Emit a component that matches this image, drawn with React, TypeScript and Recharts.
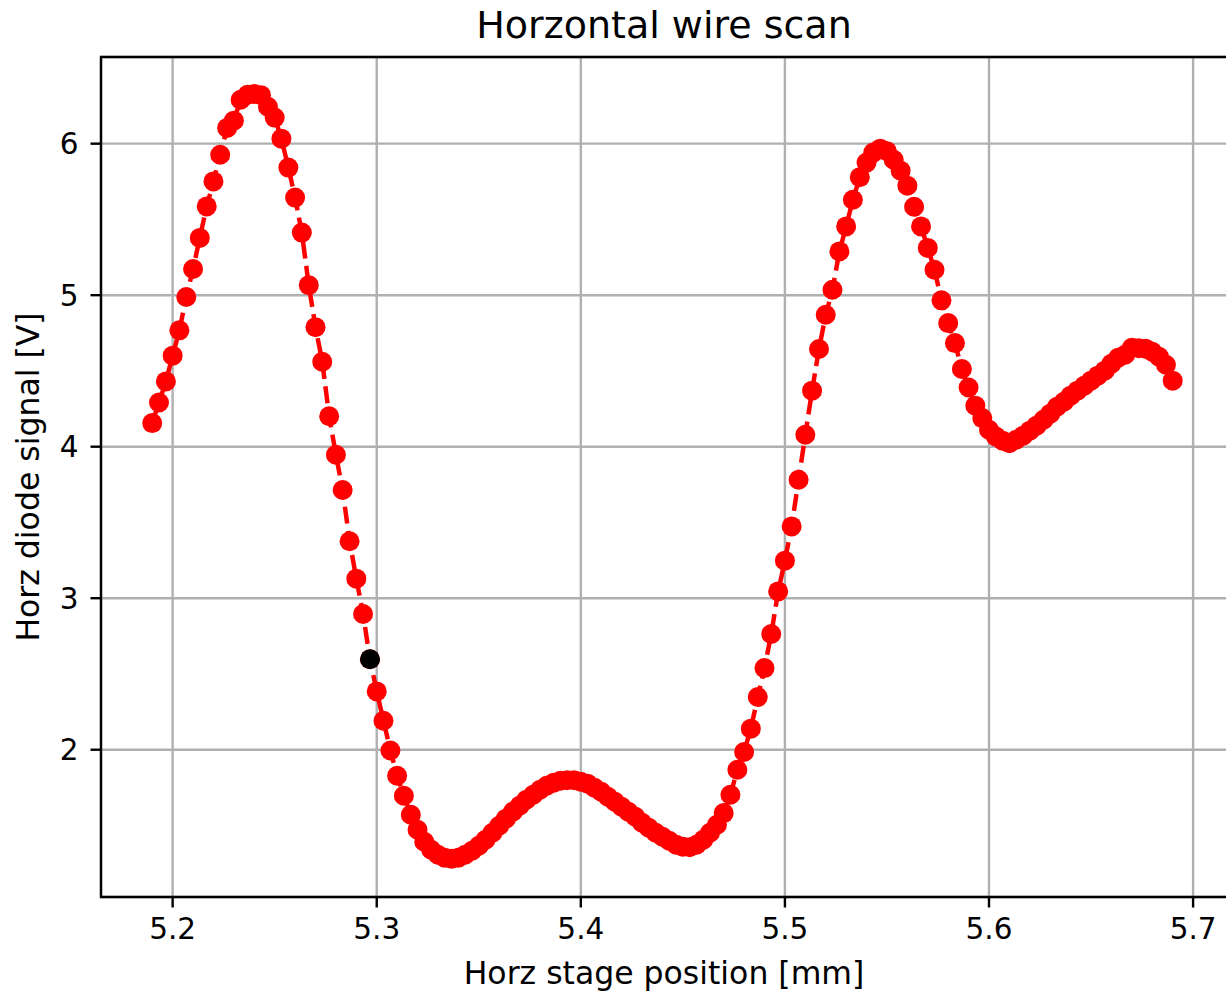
import React from 'react';
import { ComposedChart, Line, Scatter, XAxis, YAxis, CartesianGrid, ReferenceArea } from 'recharts';

// Horizontal stage position [mm]
const XS = [
  5.19, 5.1933, 5.1967, 5.2, 5.2033, 5.2067, 5.21, 5.2133, 5.2167, 5.22,
  5.2233, 5.2267, 5.23, 5.2333, 5.2367, 5.24, 5.2433, 5.2467, 5.25, 5.2533,
  5.2567, 5.26, 5.2633, 5.2667, 5.27, 5.2733, 5.2767, 5.28, 5.2833, 5.2867,
  5.29, 5.2933, 5.2967, 5.3, 5.3033, 5.3067, 5.31, 5.3133, 5.3167, 5.32,
  5.3233, 5.3267, 5.33, 5.3333, 5.3367, 5.34, 5.3433, 5.3467, 5.35, 5.3533,
  5.3567, 5.36, 5.3633, 5.3667, 5.37, 5.3733, 5.3767, 5.38, 5.3833, 5.3867,
  5.39, 5.3933, 5.3967, 5.4, 5.4033, 5.4067, 5.41, 5.4133, 5.4167, 5.42,
  5.4233, 5.4267, 5.43, 5.4333, 5.4367, 5.44, 5.4433, 5.4467, 5.45, 5.4533,
  5.4567, 5.46, 5.4633, 5.4667, 5.47, 5.4733, 5.4767, 5.48, 5.4833, 5.4867,
  5.49, 5.4933, 5.4967, 5.5, 5.5033, 5.5067, 5.51, 5.5133, 5.5167, 5.52,
  5.5233, 5.5267, 5.53, 5.5333, 5.5367, 5.54, 5.5433, 5.5467, 5.55, 5.5533,
  5.5567, 5.56, 5.5633, 5.5667, 5.57, 5.5733, 5.5767, 5.58, 5.5833, 5.5867,
  5.59, 5.5933, 5.5967, 5.6, 5.6033, 5.6067, 5.61, 5.6133, 5.6167, 5.62,
  5.6233, 5.6267, 5.63, 5.6333, 5.6367, 5.64, 5.6433, 5.6467, 5.65, 5.6533,
  5.6567, 5.66, 5.6633, 5.6667, 5.67, 5.6733, 5.6767, 5.68, 5.6833, 5.6867,
  5.69,
];

// Horz diode signal [V]
const YS = [
  4.156, 4.292, 4.431, 4.601, 4.768, 4.988, 5.173, 5.378, 5.586, 5.751,
  5.927, 6.104, 6.152, 6.290, 6.323, 6.327, 6.320, 6.244, 6.172, 6.033,
  5.842, 5.644, 5.413, 5.066, 4.789, 4.561, 4.201, 3.947, 3.714, 3.376,
  3.129, 2.896, 2.597, 2.385, 2.191, 1.995, 1.828, 1.696, 1.571, 1.472,
  1.393, 1.340, 1.307, 1.287, 1.281, 1.287, 1.307, 1.333, 1.366, 1.406,
  1.452, 1.498, 1.545, 1.591, 1.630, 1.670, 1.703, 1.736, 1.762, 1.782,
  1.795, 1.799, 1.799, 1.789, 1.776, 1.749, 1.723, 1.690, 1.657, 1.624,
  1.591, 1.558, 1.518, 1.485, 1.452, 1.426, 1.399, 1.373, 1.360, 1.356,
  1.373, 1.406, 1.452, 1.505, 1.582, 1.703, 1.868, 1.985, 2.139, 2.348,
  2.539, 2.764, 3.045, 3.248, 3.474, 3.782, 4.079, 4.370, 4.645, 4.871,
  5.036, 5.289, 5.454, 5.630, 5.779, 5.875, 5.941, 5.967, 5.950, 5.894,
  5.822, 5.723, 5.584, 5.454, 5.312, 5.168, 4.966, 4.816, 4.684, 4.513,
  4.391, 4.271, 4.189, 4.112, 4.068, 4.040, 4.023, 4.046, 4.073, 4.106,
  4.139, 4.178, 4.218, 4.264, 4.297, 4.337, 4.370, 4.403, 4.436, 4.469,
  4.502, 4.548, 4.587, 4.607, 4.653, 4.650, 4.647, 4.627, 4.594, 4.541,
  4.436,
];

// Highlighted (current) position
const MARK_X = [5.2967];
const MARK_Y = [2.597];

const X_TICKS = [5.2, 5.3, 5.4, 5.5, 5.6, 5.7];
const Y_TICKS = [2, 3, 4, 5, 6];
const X_DOMAIN: [number, number] = [5.1649, 5.7171];
const Y_DOMAIN: [number, number] = [1.028, 6.572];

const TITLE = 'Horzontal wire scan';
const X_LABEL = 'Horz stage position [mm]';
const Y_LABEL = 'Horz diode signal [V]';

const data = XS.map((x, i) => ({ x, y: YS[i] }));
const markData = MARK_X.map((x, i) => ({ x, y: MARK_Y[i] }));

const W = 1260;
const H = 994;
const PLOT_LEFT = 101;
const PLOT_TOP = 57;
const PLOT_RIGHT = 1228;
const PLOT_BOTTOM = 897;
const YAXIS_W = 60;
const XAXIS_H = 60;
const FONT = 'DejaVu Sans, Verdana, sans-serif';

const RedDot = (p: any) => <circle cx={p.cx} cy={p.cy} r={10} fill="#ff0000" />;
const BlackDot = (p: any) => <circle cx={p.cx} cy={p.cy} r={10} fill="#000000" />;

const tickStyle = { fontFamily: FONT, fontSize: 29.5, fill: '#000000' };

export default function App() {
  return (
    <div style={{ position: 'absolute', left: 0, top: 0, width: 1226, height: 994, overflow: 'hidden', background: '#fff' }}>
      <ComposedChart
        width={W}
        height={H}
        data={data}
        margin={{ left: PLOT_LEFT - YAXIS_W, top: PLOT_TOP, right: W - PLOT_RIGHT, bottom: H - PLOT_BOTTOM - XAXIS_H }}
      >
        <CartesianGrid stroke="#b0b0b0" strokeWidth={2.4} />
        <XAxis
          type="number"
          dataKey="x"
          domain={X_DOMAIN}
          ticks={X_TICKS}
          interval={0}
          allowDataOverflow
          height={XAXIS_H}
          axisLine={false}
          tickLine={{ stroke: '#000', strokeWidth: 2.4 }}
          tickSize={10.5}
          tickMargin={11}
          tick={tickStyle}
          tickFormatter={(v: number) => v.toFixed(1)}
        />
        <YAxis
          type="number"
          dataKey="y"
          domain={Y_DOMAIN}
          ticks={Y_TICKS}
          interval={0}
          allowDataOverflow
          width={YAXIS_W}
          axisLine={false}
          tickLine={{ stroke: '#000', strokeWidth: 2.4 }}
          tickSize={10.5}
          tickMargin={12}
          tick={tickStyle}
          tickFormatter={(v: number) => String(v)}
        />
        <ReferenceArea
          x1={X_DOMAIN[0]}
          x2={X_DOMAIN[1]}
          y1={Y_DOMAIN[0]}
          y2={Y_DOMAIN[1]}
          fill="none"
          fillOpacity={0}
          stroke="#000"
          strokeWidth={2.4}
        />
        <Line
          type="linear"
          dataKey="y"
          stroke="#ff0000"
          strokeWidth={4.5}
          strokeDasharray="17 7.4"
          dot={false}
          activeDot={false}
          isAnimationActive={false}
        />
        <Scatter data={data} dataKey="y" fill="#ff0000" shape={RedDot} isAnimationActive={false} />
        <Scatter data={markData} dataKey="y" fill="#000000" shape={BlackDot} isAnimationActive={false} />
      </ComposedChart>
      <svg width={1226} height={994} style={{ position: 'absolute', left: 0, top: 0, pointerEvents: 'none' }}>
        <text x={664} y={38} textAnchor="middle" fontFamily={FONT} fontSize={38} fill="#000">{TITLE}</text>
        <text x={664} y={984} textAnchor="middle" fontFamily={FONT} fontSize={31.5} fill="#000">{X_LABEL}</text>
        <text x={39} y={477} textAnchor="middle" fontFamily={FONT} fontSize={31.5} fill="#000" transform="rotate(-90 39 477)">{Y_LABEL}</text>
      </svg>
    </div>
  );
}
